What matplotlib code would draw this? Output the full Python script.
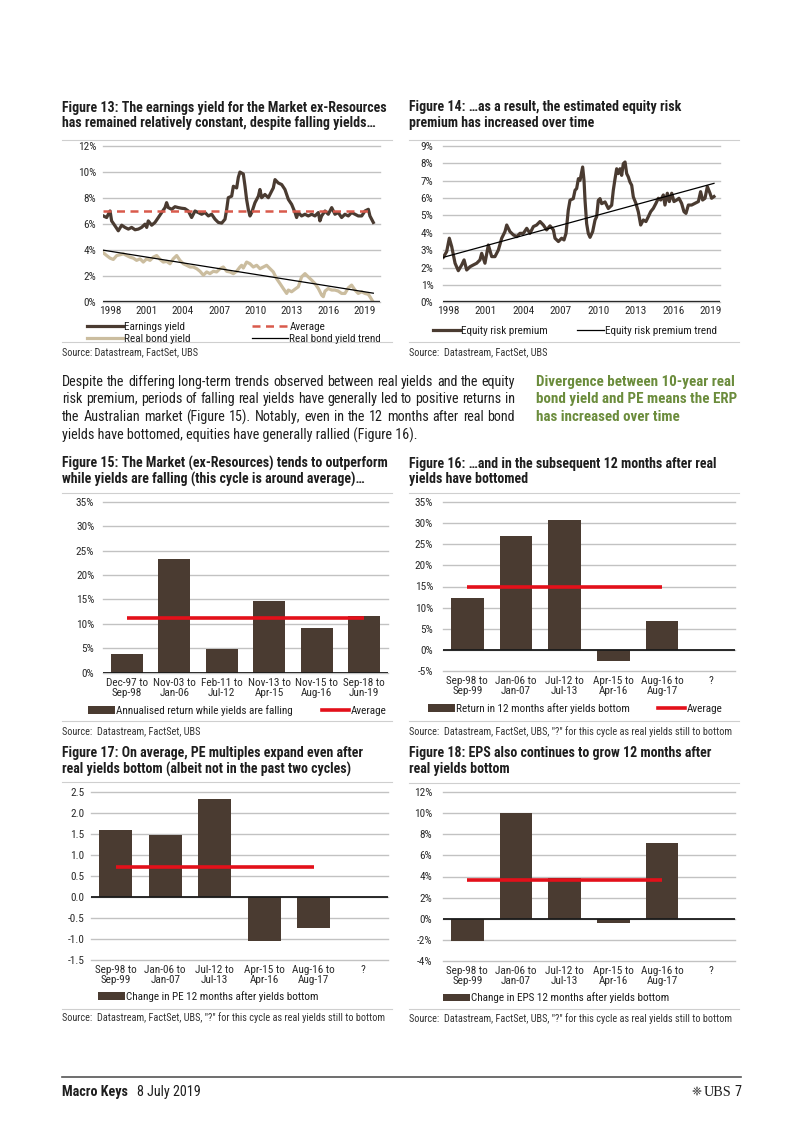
import numpy as np
import matplotlib
matplotlib.use("Agg")
import matplotlib.pyplot as plt
from matplotlib import font_manager
from matplotlib.lines import Line2D
from matplotlib.patches import Patch

# ---------------- data ----------------
# Figure 13 (per cent)
ey_years = [1997.45, 1997.72, 1998.00, 1998.13, 1998.41, 1998.68, 1998.96, 1999.23, 1999.51, 1999.78,
            2000.06, 2000.33, 2000.60, 2000.88, 2001.02, 2001.15, 2001.43, 2001.70, 2001.98, 2002.25,
            2002.53, 2002.66, 2002.80, 2003.08, 2003.35, 2003.63, 2003.90, 2004.17, 2004.45, 2004.72,
            2005.00, 2005.27, 2005.55, 2005.82, 2006.10, 2006.37, 2006.65, 2006.92, 2007.20, 2007.47,
            2007.61, 2007.74, 2008.02, 2008.16, 2008.43, 2008.57, 2008.70, 2008.98, 2009.12, 2009.25,
            2009.39, 2009.53, 2009.67, 2009.94, 2010.22, 2010.35, 2010.49, 2010.76, 2011.04, 2011.31,
            2011.45, 2011.59, 2011.86, 2012.14, 2012.41, 2012.69, 2012.96, 2013.24, 2013.37, 2013.51,
            2013.78, 2014.06, 2014.33, 2014.61, 2014.88, 2015.16, 2015.29, 2015.43, 2015.71, 2015.98,
            2016.26, 2016.53, 2016.80, 2017.08, 2017.35, 2017.63, 2017.90, 2018.18, 2018.45, 2018.73,
            2019.00, 2019.28, 2019.41, 2019.69]
ey_vals = [6.63, 6.51, 7.01, 6.25, 5.87, 5.49, 5.92, 5.75, 5.62, 5.75,
           5.57, 5.62, 5.75, 6.00, 5.75, 6.25, 5.92, 6.13, 6.51, 6.89,
           7.27, 7.65, 7.27, 7.14, 7.34, 7.27, 7.22, 7.19, 7.01, 6.51,
           7.01, 6.89, 6.76, 6.89, 6.63, 6.76, 6.38, 6.13, 6.08, 6.38,
           7.14, 8.03, 8.15, 8.91, 8.78, 9.60, 10.0, 9.85, 8.91, 7.90,
           7.14, 6.63, 6.89, 7.65, 8.15, 8.66, 8.03, 8.28, 8.03, 8.53,
           8.78, 9.42, 9.16, 9.04, 8.66, 7.90, 7.52, 6.89, 6.51, 6.89,
           6.63, 6.76, 6.63, 6.76, 6.63, 6.89, 6.25, 6.63, 7.01, 6.76,
           7.27, 6.76, 6.89, 6.51, 6.76, 6.63, 6.89, 6.76, 6.63, 6.63,
           7.01, 7.14, 6.63, 6.13]
ey_avg = 7.0

rby_years = [1997.45, 1997.72, 1998.00, 1998.27, 1998.55, 1998.82, 1999.10, 1999.37, 1999.64, 1999.92,
             2000.19, 2000.47, 2000.74, 2001.02, 2001.29, 2001.57, 2001.84, 2002.12, 2002.39, 2002.66,
             2002.94, 2003.21, 2003.49, 2003.76, 2004.04, 2004.31, 2004.59, 2004.86, 2005.14, 2005.41,
             2005.69, 2005.96, 2006.23, 2006.51, 2006.78, 2007.06, 2007.33, 2007.61, 2007.88, 2008.16,
             2008.43, 2008.70, 2008.84, 2008.98, 2009.25, 2009.53, 2009.80, 2010.08, 2010.35, 2010.63,
             2010.90, 2011.18, 2011.45, 2011.72, 2012.00, 2012.27, 2012.55, 2012.69, 2012.96, 2013.24,
             2013.51, 2013.78, 2014.06, 2014.33, 2014.61, 2014.88, 2015.16, 2015.43, 2015.57, 2015.71,
             2015.98, 2016.26, 2016.53, 2016.80, 2017.08, 2017.35, 2017.63, 2017.90, 2018.18, 2018.45,
             2018.73, 2019.00, 2019.28, 2019.41, 2019.69]
rby_vals = [3.80, 3.59, 3.39, 3.29, 3.59, 3.65, 3.72, 3.59, 3.47, 3.39,
            3.22, 3.34, 3.09, 3.34, 3.22, 3.47, 3.59, 3.29, 3.09, 3.14,
            2.96, 3.34, 3.59, 3.22, 2.96, 2.84, 2.71, 2.71, 2.58, 2.38,
            2.08, 2.33, 2.20, 2.38, 2.33, 2.58, 2.71, 2.38, 2.33, 2.20,
            2.38, 2.71, 2.84, 2.63, 3.09, 2.96, 2.71, 2.84, 2.58, 2.71,
            2.84, 2.58, 2.33, 1.82, 1.44, 1.06, 0.68, 0.94, 0.81, 1.01,
            1.19, 1.95, 2.20, 1.95, 1.70, 1.44, 1.06, 0.56, 0.43, 0.86,
            1.06, 0.94, 0.94, 0.86, 0.68, 0.68, 1.11, 1.32, 0.94, 0.68,
            0.81, 0.68, 0.61, 0.43, 0.00]
rby_trend = [4.0, 0.7]

# Figure 14 (per cent)
erp_years = [1997.60, 1997.87, 1998.08, 1998.27, 1998.54, 1998.80, 1999.07, 1999.26, 1999.47, 1999.74,
             2000.00, 2000.27, 2000.53, 2000.67, 2000.93, 2001.20, 2001.47, 2001.73, 2002.00, 2002.27,
             2002.53, 2002.67, 2002.93, 2003.20, 2003.47, 2003.73, 2004.00, 2004.27, 2004.53, 2004.80,
             2005.06, 2005.33, 2005.60, 2005.86, 2006.13, 2006.40, 2006.53, 2006.80, 2007.06, 2007.25,
             2007.41, 2007.59, 2007.73, 2007.99, 2008.13, 2008.26, 2008.40, 2008.53, 2008.74, 2008.85,
             2008.93, 2009.06, 2009.19, 2009.33, 2009.54, 2009.73, 2009.86, 2009.99, 2010.13, 2010.26,
             2010.53, 2010.79, 2011.06, 2011.19, 2011.33, 2011.46, 2011.59, 2011.73, 2011.86, 2011.99,
             2012.13, 2012.26, 2012.39, 2012.52, 2012.66, 2012.79, 2013.00, 2013.19, 2013.38, 2013.59,
             2013.80, 2013.99, 2014.18, 2014.39, 2014.60, 2014.79, 2014.98, 2015.19, 2015.32, 2015.51,
             2015.67, 2015.86, 2016.04, 2016.26, 2016.44, 2016.65, 2016.84, 2017.00, 2017.19, 2017.45,
             2017.72, 2017.99, 2018.17, 2018.33, 2018.52, 2018.71, 2018.92, 2019.05, 2019.24]
erp_vals = [2.59, 2.92, 3.69, 3.21, 2.25, 1.82, 2.15, 2.44, 1.86, 2.05,
            2.15, 2.25, 2.44, 2.82, 2.25, 3.30, 2.63, 2.63, 3.01, 3.69,
            4.07, 4.45, 4.07, 3.88, 3.78, 3.97, 3.97, 4.26, 3.97, 4.36,
            4.45, 4.65, 4.45, 4.17, 4.40, 4.17, 3.69, 3.50, 3.69, 3.59,
            3.97, 5.30, 5.88, 5.97, 6.45, 6.55, 7.12, 7.02, 7.79, 7.02,
            5.87, 4.53, 3.97, 3.74, 4.07, 4.74, 4.93, 5.87, 5.97, 5.68,
            5.78, 5.40, 5.59, 6.45, 7.12, 7.69, 7.41, 7.69, 7.31, 7.98,
            8.08, 7.41, 7.22, 6.93, 6.74, 6.07, 5.69, 5.21, 4.45, 4.74,
            4.65, 4.93, 5.22, 5.41, 5.70, 5.99, 5.89, 6.18, 5.60, 6.28,
            5.80, 6.28, 5.80, 5.89, 5.99, 5.70, 5.22, 5.12, 5.60, 5.60,
            5.70, 5.80, 6.37, 5.89, 5.99, 6.66, 6.28, 5.99, 6.09]
erp_trend = [2.59, 6.85]
year_ticks = [1998, 2001, 2004, 2007, 2010, 2013, 2016, 2019]

# Figure 15 (per cent)
f15_cats = ["Dec-97 to\nSep-98", "Nov-03 to\nJan-06", "Feb-11 to\nJul-12",
            "Nov-13 to\nApr-15", "Nov-15 to\nAug-16", "Sep-18 to\nJun-19"]
f15_vals = [3.8, 23.2, 4.85, 14.7, 9.2, 11.6]
f15_avg = 11.25

# Figures 16-18 share the cycles
cycle_cats = ["Sep-98 to\nSep-99", "Jan-06 to\nJan-07", "Jul-12 to\nJul-13",
              "Apr-15 to\nApr-16", "Aug-16 to\nAug-17", "?\n "]
f16_vals = [12.2, 26.9, 30.7, -2.5, 6.75, np.nan]
f16_avg = 14.9
f17_vals = [1.58, 1.46, 2.33, -1.05, -0.73, np.nan]
f17_avg = 0.71
f18_vals = [-2.1, 9.95, 3.85, -0.35, 7.2, np.nan]
f18_avg = 3.7

para = ["Despite the differing long-term trends observed between real yields and the equity",
        "risk premium, periods of falling real yields have generally led to positive returns in",
        "the Australian market (Figure 15). Notably, even in the 12 months after real bond",
        "yields have bottomed, equities have generally rallied (Figure 16)."]
side = ["Divergence between 10-year real", "bond yield and PE means the ERP", "has increased over time"]
src1 = "Source: Datastream, FactSet, UBS"
src2 = "Source:  Datastream, FactSet, UBS"
src3 = 'Source:  Datastream, FactSet, UBS, "?" for this cycle as real yields still to bottom'

# ---------------- fonts: prefer a narrow face, like the original ----------------
fonts = font_manager.fontManager.ttflist
names = {f.name for f in fonts}
FONT, STRETCH = "Roboto", "normal"
for fam in ["Liberation Sans Narrow", "Roboto Condensed", "Open Sans Condensed"]:
    if fam in names:
        FONT = fam
        break
else:
    for fam in ["Noto Sans", "Open Sans", "DejaVu Sans"]:
        if any(f.name == fam and f.stretch == "condensed" for f in fonts):
            FONT, STRETCH = fam, "condensed"
            break
plt.rcParams["font.family"] = [FONT, "DejaVu Sans"]
plt.rcParams["font.stretch"] = STRETCH

BROWN = "#4a3b31"
TAN = "#cbbd9f"
DASH = "#d95a4c"
RED = "#e3101a"
GRID = "#c2c2c2"
INK = "#1e1e1e"
GREEN = "#6b8c3c"

W, H = 802, 1133
fig = plt.figure(figsize=(W / 100, H / 100), dpi=100)
R = fig.canvas.get_renderer()


def width(s, size, **kw):
    t = fig.text(0, 0, s, fontsize=size, **kw)
    w = t.get_window_extent(renderer=R).width
    t.remove()
    return w


def fit(s, px, **kw):
    return 10 * px / width(s, 10, **kw)


def put(x, y, s, **kw):
    kw.setdefault("va", "center")
    kw.setdefault("color", INK)
    return fig.text(x / W, 1 - y / H, s, **kw)


def rule(x0, x1, y, color="#cfcfcf", lw=0.8):
    fig.add_artist(Line2D([x0 / W, x1 / W], [1 - y / H] * 2, color=color, lw=lw))


def axes_px(x0, y0, x1, y1):
    return fig.add_axes([x0 / W, 1 - y1 / H, (x1 - x0) / W, (y1 - y0) / H])


TITLE = fit("Figure 13: The earnings yield for the Market ex-Resources", 325, fontweight="bold")
TICK = 0.94 * fit("Dec-97 to", 45)
LEG = 0.95 * fit("Annualised return while yields are falling", 186)
SRC = fit(src3, 322)


def legend_at(handle, label, x, y, hlen):
    fig.legend([handle], [label], loc="center left", bbox_to_anchor=(x / W, 1 - y / H),
               frameon=False, borderpad=0, borderaxespad=0, fontsize=LEG,
               handlelength=hlen / (LEG * 100 / 72), handletextpad=0.12, labelcolor=INK)


def style(ax, yticks, fmt, ypad, xpad):
    for s in ax.spines.values():
        s.set_visible(False)
    ax.set_yticks(yticks)
    ax.set_yticklabels([fmt(v) for v in yticks])
    ax.set_ylim(yticks[0], yticks[-1])
    ax.tick_params(length=0, labelsize=TICK, colors="#2a2a2a")
    ax.tick_params(axis="y", pad=ypad)
    ax.tick_params(axis="x", pad=xpad)
    ax.grid(axis="y", color=GRID, lw=1.0)
    for g in ax.get_ygridlines():
        g.set_clip_on(False)
    ax.set_axisbelow(True)


def block(x, ytitle, title_lines, ytop, ybot, ysrc, src):
    for i, line in enumerate(title_lines):
        put(x, ytitle + 15.5 * i, line, fontsize=TITLE, fontweight="bold")
    rule(x, x + 330, ytop)
    rule(x, x + 330, ybot)
    put(x, ysrc, src, fontsize=SRC, color="#333333")


pct = lambda v: f"{v:.0f}%"

# ---------------- Figure 13 ----------------
block(62, 108, ["Figure 13: The earnings yield for the Market ex-Resources",
                "has remained relatively constant, despite falling yields\u2026"], 139.5, 342, 352.5, src1)
ax = axes_px(103, 146, 380, 302.3)
style(ax, [0, 2, 4, 6, 8, 10, 12], pct, 5, 3.0)
ax.set_xlim(1997.42, 2020.24)
ax.set_xticks(year_ticks)
ax.axhline(0, color="#2a2a2a", lw=2.4, zorder=4)
l_ey, = ax.plot(ey_years, ey_vals, color=BROWN, lw=2.3, zorder=3)
l_rby, = ax.plot(rby_years, rby_vals, color=TAN, lw=2.3, zorder=3)
l_avg, = ax.plot([ey_years[0], ey_years[-1]], [ey_avg, ey_avg], color=DASH, lw=1.8,
                 dashes=(3.2, 2.2), zorder=3)
l_tr, = ax.plot([rby_years[0], rby_years[-1]], rby_trend, color="black", lw=0.9, zorder=3)
legend_at(l_ey, "Earnings yield", 87, 326.5, 36)
legend_at(l_rby, "Real bond yield", 87, 339, 36)
legend_at(l_avg, "Average", 252, 326.5, 36)
legend_at(l_tr, "Real bond yield trend", 252, 339, 36)

# ---------------- Figure 14 ----------------
block(409, 107, ["Figure 14: \u2026as a result, the estimated equity risk",
                 "premium has increased over time"], 139.5, 342, 352.5, src2)
ax = axes_px(443.3, 146, 720, 302.3)
style(ax, list(range(0, 10)), pct, 7.2, 3.0)
ax.set_xlim(1997.60, 2019.72)
ax.set_xticks(year_ticks)
ax.axhline(0, color="#2a2a2a", lw=2.4, zorder=4)
l_erp, = ax.plot(erp_years, erp_vals, color=BROWN, lw=2.3, zorder=3)
l_etr, = ax.plot([erp_years[0], erp_years[-1]], erp_trend, color="black", lw=0.9, zorder=3)
legend_at(l_erp, "Equity risk premium", 433, 330.5, 27)
legend_at(l_etr, "Equity risk premium trend", 577, 330.5, 27)

# ---------------- paragraph + side note ----------------
PARA = fit(para[0], 453)
for i, line in enumerate(para):
    y = 381.5 + 17.8 * i
    if i == len(para) - 1:
        put(62, y, line, fontsize=PARA)
        continue
    words = line.split(" ")
    ws = [width(w, PARA) for w in words]
    gap = (453 - sum(ws)) / (len(words) - 1)
    x = 62
    for w, wd in zip(words, ws):
        put(x, y, w, fontsize=PARA)
        x += wd + gap
SIDE = fit(side[0], 198, fontweight="bold")
for i, line in enumerate(side):
    put(536, 381.5 + 17.8 * i, line, fontsize=SIDE, fontweight="bold", color=GREEN)


# ---------------- bar charts ----------------
def bar_chart(box, cats, vals, avg, yticks, fmt, ypad, xpad):
    ax = axes_px(*box)
    style(ax, yticks, fmt, ypad, xpad)
    x = np.arange(len(cats))
    ax.bar(x, vals, width=0.67, color=BROWN, zorder=2)
    ax.axhline(0, color="#1a1a1a", lw=1.3, zorder=3)
    have = np.flatnonzero(~np.isnan(np.asarray(vals, dtype=float)))
    ax.plot([have[0], have[-1]], [avg, avg], color=RED, lw=2.6, zorder=4, solid_capstyle="butt")
    ax.set_xlim(-0.5, len(cats) - 0.5)
    ax.set_xticks(x)
    ax.set_xticklabels(cats)
    for t in ax.get_xticklabels():
        t.set_linespacing(1.0)
    return ax


bar_patch = Patch(facecolor=BROWN)
red_line = Line2D([], [], color=RED, lw=2.6)

block(62, 463.5, ["Figure 15: The Market (ex-Resources) tends to outperform",
                  "while yields are falling (this cycle is around average)\u2026"], 493, 721, 731.5, src2)
bar_chart((103, 501.7, 388, 672.7), f15_cats, f15_vals, f15_avg, list(range(0, 40, 5)), pct, 6.3, 4.0)
legend_at(bar_patch, "Annualised return while yields are falling", 88, 710.5, 27)
legend_at(red_line, "Average", 322, 710.5, 27)

block(409, 463.5, ["Figure 16: \u2026and in the subsequent 12 months after real",
                   "yields have bottomed"], 493, 721, 731.5, src3)
bar_chart((443, 501.7, 735, 671.3), cycle_cats, f16_vals, f16_avg, list(range(-5, 40, 5)), pct, 7.2, 3.6)
legend_at(bar_patch, "Return in 12 months after yields bottom", 428, 708.5, 27)
legend_at(red_line, "Average", 658, 708.5, 27)

block(62, 753.5, ["Figure 17: On average, PE multiples expand even after",
                  "real yields bottom (albeit not in the past two cycles)"], 781.5, 1008.5, 1018, src3)
bar_chart((91, 791.7, 388, 960), cycle_cats, f17_vals, f17_avg,
          [-1.5, -1.0, -0.5, 0.0, 0.5, 1.0, 1.5, 2.0, 2.5], lambda v: f"{v:.1f}", 4.8, 3.5)
legend_at(bar_patch, "Change in PE 12 months after yields bottom", 98, 996.5, 27)

block(409, 753.5, ["Figure 18: EPS also continues to grow 12 months after",
                   "real yields bottom"], 782.5, 1008.5, 1018.5, src3)
bar_chart((443, 791.7, 735, 961.3), cycle_cats, f18_vals, f18_avg, list(range(-4, 14, 2)), pct, 7.7, 3.6)
legend_at(bar_patch, "Change in EPS 12 months after yields bottom", 443, 998, 27)

# ---------------- footer ----------------
rule(62, 741, 1077, color="#555555", lw=1.2)
FOOT = fit("Macro Keys", 66, fontweight="bold")
serif = ["Liberation Serif", "DejaVu Serif"]
put(62, 1092, "Macro Keys", fontsize=FOOT, fontweight="bold")
put(137, 1092, "8 July 2019", fontsize=FOOT)
put(741, 1092, "7", fontsize=FOOT, ha="right")
put(731, 1092, "UBS", fontsize=FOOT, ha="right", family=serif)
ubs_w = width("UBS", FOOT, family=serif)
put(731 - ubs_w - 1.5, 1092, "\u2748", fontsize=FOOT * 0.85, ha="right", family=["DejaVu Sans"])

fig.savefig("out.png", dpi=100)
